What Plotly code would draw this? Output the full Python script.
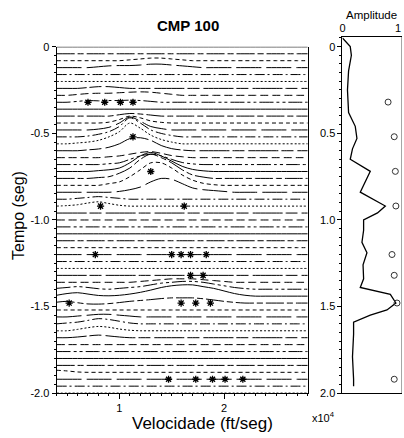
import plotly.graph_objects as go

W, H = 404, 438

# ---------------- data ----------------
# velocity knots (x10^4 ft/seg) at which every trace is sampled
velocity_knots = [0.4, 0.5, 0.6, 0.7, 0.8, 0.9, 1.0, 1.1, 1.2, 1.3, 1.4, 1.5, 1.6,
                  1.7, 1.8, 1.9, 2.0, 2.1, 2.2, 2.3, 2.4, 2.5, 2.6, 2.7, 2.8]

# time of each semblance trace (seg)
trace_times = [0.00, -0.04, -0.08, -0.12, -0.16, -0.20, -0.24, -0.28, -0.32, -0.36,
               -0.40, -0.44, -0.48, -0.52, -0.56, -0.60, -0.64, -0.68, -0.72, -0.76,
               -0.80, -0.84, -0.88, -0.92, -0.96, -1.00, -1.04, -1.08, -1.12, -1.16,
               -1.20, -1.24, -1.28, -1.32, -1.36, -1.40, -1.44, -1.48, -1.52, -1.56,
               -1.60, -1.64, -1.68, -1.72, -1.76, -1.80, -1.84, -1.88, -1.92, -1.96,
               -2.00]

# upward deflection (seg) of the traces that are not flat, read at the knots
trace_offsets = {
    -0.08: [0, 0, 0, 0, 0, 0, 0, 0.005, 0.01, 0.015, 0.015, 0.01, 0.005, 0, 0, 0, 0, 0, 0, 0, 0, 0, 0, 0, 0],
    -0.12: [0, 0, 0, 0, 0.005, 0.01, 0.012, 0.012, 0.015, 0.02, 0.02, 0.015, 0.01, 0.005, 0, 0, 0, 0, 0, 0, 0, 0, 0, 0, 0],
    -0.24: [0, 0, 0, 0.005, 0.01, 0.01, 0.005, 0, 0, 0, 0, 0, 0, 0, 0, 0, 0, 0, 0, 0, 0, 0, 0, 0, 0],
    -0.28: [0, 0, 0.005, 0.01, 0.012, 0.012, 0.015, 0.018, 0.02, 0.018, 0.012, 0.006, 0, 0, 0, 0, 0, 0, 0, 0, 0, 0, 0, 0, 0],
    -0.32: [0, 0, 0.005, 0.01, 0.008, 0.01, 0.01, 0.012, 0.01, 0.005, 0, 0, 0, 0, 0, 0, 0, 0, 0, 0, 0, 0, 0, 0, 0],
    -0.40: [0, 0, 0, 0, 0, 0, 0.008, 0.015, 0.012, 0.006, 0, 0, 0, 0, 0, 0, 0, 0, 0, 0, 0, 0, 0, 0, 0],
    -0.44: [0, 0, 0, 0, 0, 0.005, 0.02, 0.04, 0.03, 0.012, 0.004, 0, 0, 0, 0, 0, 0, 0, 0, 0, 0, 0, 0, 0, 0],
    -0.48: [0, 0, 0, 0, 0.005, 0.015, 0.04, 0.075, 0.05, 0.02, 0.008, 0, 0, 0, 0, 0, 0, 0, 0, 0, 0, 0, 0, 0, 0],
    -0.52: [0, 0, 0, 0.005, 0.015, 0.03, 0.06, 0.11, 0.08, 0.04, 0.02, 0.008, 0, 0, 0, 0, 0, 0, 0, 0, 0, 0, 0, 0, 0],
    -0.56: [0, 0, 0.005, 0.01, 0.02, 0.04, 0.07, 0.12, 0.09, 0.05, 0.025, 0.01, 0, 0, 0, 0, 0, 0, 0, 0, 0, 0, 0, 0, 0],
    -0.60: [0, 0, 0, 0.005, 0.01, 0.02, 0.04, 0.07, 0.075, 0.06, 0.03, 0.012, 0.004, 0, 0, 0, 0, 0, 0, 0, 0, 0, 0, 0, 0],
    -0.64: [0, 0, 0, 0, 0, 0.005, 0.01, 0.02, 0.03, 0.035, 0.025, 0.012, 0.005, 0, 0, 0, 0, 0, 0, 0, 0, 0, 0, 0, 0],
    -0.68: [0, 0, 0, 0, 0, 0.005, 0.01, 0.03, 0.05, 0.06, 0.05, 0.03, 0.012, 0.004, 0, 0, 0, 0, 0, 0, 0, 0, 0, 0, 0],
    -0.72: [0, 0, 0, 0, 0.005, 0.01, 0.02, 0.05, 0.09, 0.11, 0.09, 0.06, 0.03, 0.012, 0.004, 0, 0, 0, 0, 0, 0, 0, 0, 0, 0],
    -0.76: [0, 0, 0, 0, 0.005, 0.01, 0.03, 0.06, 0.11, 0.14, 0.12, 0.09, 0.05, 0.02, 0.008, 0, 0, 0, 0, 0, 0, 0, 0, 0, 0],
    -0.80: [0, 0, 0, 0, 0, 0.01, 0.02, 0.05, 0.09, 0.13, 0.13, 0.10, 0.06, 0.03, 0.012, 0.004, 0, 0, 0, 0, 0, 0, 0, 0, 0],
    -0.84: [0, 0, 0, 0, 0, 0, 0.005, 0.015, 0.03, 0.06, 0.08, 0.075, 0.05, 0.025, 0.015, 0.01, 0.005, 0, 0, 0, 0, 0, 0, 0, 0],
    -0.88: [0, 0, 0.005, 0.01, 0.015, 0.01, 0.005, 0, 0, 0, 0, 0, 0, 0, 0, 0, 0, 0, 0, 0, 0, 0, 0, 0, 0],
    -0.92: [0, 0.003, 0.008, 0.018, 0.025, 0.015, 0.005, 0, 0, 0, 0, 0, 0, 0, 0, 0, 0, 0, 0, 0, 0, 0, 0, 0, 0],
    -1.36: [0, 0, 0, 0, 0, 0, 0, 0, 0.005, 0.01, 0.015, 0.02, 0.02, 0.02, 0.015, 0.01, 0.005, 0, 0, 0, 0, 0, 0, 0, 0],
    -1.40: [0.005, 0.01, 0.015, 0.01, 0.003, 0, 0.005, 0.01, 0.015, 0.025, 0.035, 0.04, 0.045, 0.045, 0.04, 0.03, 0.02, 0.01, 0.004, 0, 0, 0, 0, 0, 0],
    -1.44: [0.005, 0.015, 0.02, 0.012, 0.004, 0.002, 0.005, 0.012, 0.022, 0.035, 0.05, 0.06, 0.065, 0.065, 0.055, 0.045, 0.03, 0.015, 0.005, 0, 0, 0, 0, 0, 0],
    -1.48: [0.005, 0.01, 0.002, -0.005, -0.006, -0.003, 0.003, 0.01, 0.015, 0.02, 0.026, 0.03, 0.03, 0.03, 0.025, 0.018, 0.01, 0.004, 0, 0, 0, 0, 0, 0, 0],
    -1.56: [0, 0, 0.005, 0.01, 0.015, 0.015, 0.01, 0.005, 0, 0, 0, 0, 0, 0, 0, 0, 0, 0, 0, 0, 0, 0, 0, 0, 0],
    -1.60: [0, 0.005, 0.01, 0.02, 0.03, 0.025, 0.015, 0.005, 0, 0, 0, 0, 0, 0, 0, 0, 0, 0, 0, 0, 0, 0, 0, 0, 0],
    -1.64: [0, 0, 0.008, 0.018, 0.025, 0.02, 0.01, 0.003, 0, 0, 0, 0, 0, 0, 0, 0, 0, 0, 0, 0, 0, 0, 0, 0, 0],
    -1.68: [0, 0, 0.004, 0.01, 0.015, 0.01, 0.004, 0, 0, 0, 0, 0, 0, 0, 0, 0, 0, 0, 0, 0, 0, 0, 0, 0, 0],
    -1.88: [0.012, 0.008, 0.002, 0, 0, 0, 0, 0, 0, 0, 0, 0, 0, 0, 0, 0, 0, 0, 0, 0, 0, 0, 0, 0, 0],
}

# picked velocities (asterisks)
pick_times = [-0.32, -0.32, -0.32, -0.32, -0.52, -0.72, -0.92, -0.92,
              -1.20, -1.20, -1.20, -1.20, -1.20, -1.32, -1.32,
              -1.48, -1.48, -1.48, -1.48,
              -1.92, -1.92, -1.92, -1.92, -1.92]
pick_velocities = [0.70, 0.86, 1.01, 1.13, 1.13, 1.30, 0.82, 1.62,
                   0.77, 1.50, 1.59, 1.68, 1.83, 1.68, 1.80,
                   0.52, 1.59, 1.73, 1.87,
                   1.47, 1.73, 1.89, 2.01, 2.18]

# amplitude panel
amp_times = [-0.05, 0.00, 0.05, 0.14, 0.25, 0.38, 0.46, 0.53, 0.59, 0.65, 0.72, 0.78,
             0.84, 0.92, 0.96, 1.00, 1.06, 1.13, 1.19, 1.26, 1.34, 1.39, 1.43, 1.48,
             1.52, 1.55, 1.59, 1.66, 1.79, 1.92, 1.96]
amp_values = [0.00, 0.14, 0.16, 0.11, 0.09, 0.11, 0.23, 0.26, 0.18, 0.14, 0.50, 0.41,
              0.32, 0.77, 0.63, 0.38, 0.38, 0.35, 0.44, 0.37, 0.38, 0.32, 0.86, 0.96,
              0.80, 0.50, 0.20, 0.20, 0.18, 0.20, 0.20]
circle_times = [0.32, 0.52, 0.72, 0.92, 1.20, 1.32, 1.48, 1.92]
circle_values = [0.82, 0.93, 0.95, 0.96, 0.89, 0.93, 0.98, 0.93]

left_ytick_vals = [0, -0.5, -1.0, -1.5, -2.0]
left_ytick_text = ["0", "-0.5", "-1.0", "-1.5", "-2.0"]
right_ytick_vals = [0, 0.5, 1.0, 1.5, 2.0]
right_ytick_text = ["0", "0.5", "1.0", "1.5", "2.0"]

# ---------------- figure ----------------
DASHES = ["solid", "18px,3px,6px,3px", "4px,3px", "25px,5px", "10px,3px,2px,3px",
          "2px,2px", "30px,3px,12px,4px", "8px,4px", "14px,3px,3px,3px,3px,3px"]

fig = go.Figure()
zero = [0] * len(velocity_knots)
for i, t in enumerate(trace_times):
    offs = trace_offsets.get(t, zero)
    fig.add_trace(go.Scatter(
        x=velocity_knots, y=[t + o for o in offs], mode="lines",
        line=dict(color="black", width=1, dash=DASHES[i % len(DASHES)],
                  shape="spline", smoothing=0.9),
        xaxis="x", yaxis="y", hoverinfo="skip", showlegend=False))

fig.add_trace(go.Scatter(
    x=pick_velocities, y=pick_times, mode="markers",
    marker=dict(symbol="asterisk-open", size=6, color="black",
                line=dict(width=1.3, color="black")),
    xaxis="x", yaxis="y", showlegend=False))

fig.add_trace(go.Scatter(
    x=amp_values, y=amp_times, mode="lines",
    line=dict(color="black", width=1.3),
    xaxis="x2", yaxis="y2", showlegend=False))
fig.add_trace(go.Scatter(
    x=circle_values, y=circle_times, mode="markers",
    marker=dict(symbol="circle-open", size=6, color="#333",
                line=dict(width=1, color="#333")),
    xaxis="x2", yaxis="y2", showlegend=False, cliponaxis=False))

font = "Liberation Sans, Arial, sans-serif"
axis_common = dict(showgrid=False, zeroline=False, showline=True, linecolor="black",
                   linewidth=1, tickcolor="black", tickfont=dict(family=font, size=11, color="black"))

fig.update_layout(
    width=W, height=H, margin=dict(l=0, r=0, t=0, b=0),
    paper_bgcolor="white", plot_bgcolor="white", showlegend=False,
    font=dict(family=font, size=11, color="black"),
    xaxis=dict(domain=[54 / W, 307 / W], range=[0.4, 2.8], anchor="y",
               ticks="outside", ticklen=5, tickvals=[1, 2], ticktext=["1", "2"],
               minor=dict(dtick=0.1, tick0=0, ticks="outside", ticklen=2, tickcolor="black"),
               **axis_common),
    yaxis=dict(domain=[1 - 398 / H, 1 - 42 / H], range=[-2.0, 0], anchor="x", mirror=True,
               ticks="outside", ticklen=4, tickvals=left_ytick_vals, ticktext=left_ytick_text,
               minor=dict(dtick=0.05, tick0=0, ticks="outside", ticklen=2, tickcolor="black"),
               **axis_common),
    xaxis2=dict(domain=[342 / W, 402 / W], range=[0, 1.07], anchor="y2", side="top",
                mirror=True, ticks="", tickvals=[0, 1], ticktext=["0", "1"],
                **axis_common),
    yaxis2=dict(domain=[1 - 398 / H, 1 - 32 / H], range=[2.0, -0.055], anchor="x2",
                ticks="outside", ticklen=4, tickvals=right_ytick_vals, ticktext=right_ytick_text,
                minor=dict(dtick=0.05, tick0=0, ticks="outside", ticklen=2, tickcolor="black"),
                **axis_common),
)

fig.add_shape(type="line", xref="x2", yref="y2", x0=1.07, x1=1.07, y0=-0.055, y1=2.0,
              line=dict(color="#888", width=1.5))


def ann(text, px, py, size, **kw):
    fig.add_annotation(text=text, x=px / W, y=1 - py / H, xref="paper", yref="paper",
                       showarrow=False, font=dict(family=font, size=size, color="black"),
                       xanchor="center", yanchor="middle", **kw)


ann("<b>CMP 100</b>", 186, 20, 15)
ann("Tempo (seg)", 15, 215, 16, textangle=-90)
ann("Velocidade (ft/seg)", 201, 429, 17)
ann("x10<sup>4</sup>", 323, 423, 11)
ann("Amplitude", 371, 9, 11.5)

fig.write_html("out.html")
